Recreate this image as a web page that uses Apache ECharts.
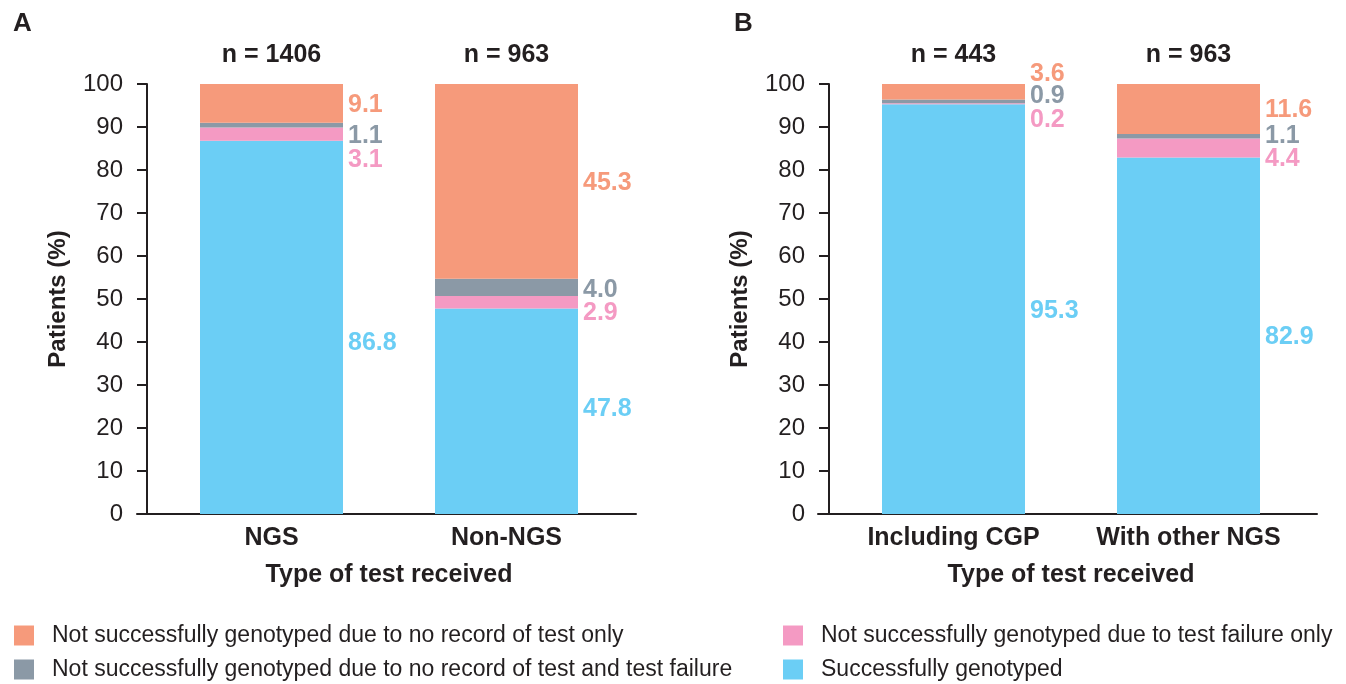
<!DOCTYPE html>
<html>
<head>
<meta charset="utf-8">
<script src="https://cdn.jsdelivr.net/npm/echarts@6.0.0/dist/echarts.min.js"></script>
<style>
  html, body { margin: 0; padding: 0; background: #fff; }
  #chart { width: 1346px; height: 684px; }
</style>
</head>
<body>
<div id="chart"></div>
<script>
// 数据
const seriesNames = [
  'Successfully genotyped',
  'Not successfully genotyped due to test failure only',
  'Not successfully genotyped due to no record of test and test failure',
  'Not successfully genotyped due to no record of test only'
];
const seriesColors = ['#6BCEF5', '#F49AC3', '#8B99A6', '#F69A7B'];

const categoriesA = ['NGS', 'Non-NGS'];
const nLabelsA = ['n = 1406', 'n = 963'];
const successA = [86.8, 47.8];
const failureA = [3.1, 2.9];
const bothA = [1.1, 4.0];
const noRecordA = [9.1, 45.3];

const categoriesB = ['Including CGP', 'With other NGS'];
const nLabelsB = ['n = 443', 'n = 963'];
const successB = [95.3, 82.9];
const failureB = [0.2, 4.4];
const bothB = [0.9, 1.1];
const noRecordB = [3.6, 11.6];

const yTicks = [0, 100, 10];

// 标签上下微调 (px)，避免重叠
const nudgeA = [[16, -2], [26, 11], [11, 3], [2, 2]];
const nudgeB = [[2, 1], [16, 11], [-5, 0], [-18, 1]];

const font = 'Liberation Sans, Arial, Helvetica, sans-serif';
const ink = '#231f20';

const chart = echarts.init(document.getElementById('chart'));

function panelGrid(left) {
  return { left: left, top: 84, width: 470, height: 430 };
}
function lineGrid(left) {
  return { left: left, top: 84, width: 499, height: 430 };
}

function catAxis(grid, cats) {
  return {
    type: 'category', gridIndex: grid, data: cats, position: 'bottom',
    axisLine: { show: false }, axisTick: { show: false },
    axisLabel: { interval: 0, color: ink, fontFamily: font, fontWeight: 'bold', fontSize: 25, margin: 12 },
    name: 'Type of test received', nameLocation: 'middle', nameGap: 49,
    nameTextStyle: { color: ink, fontFamily: font, fontWeight: 'bold', fontSize: 25 }
  };
}
function nAxis(grid, labels) {
  return {
    type: 'category', gridIndex: grid, data: labels, position: 'top',
    axisLine: { show: false }, axisTick: { show: false },
    axisLabel: { interval: 0, color: ink, fontFamily: font, fontWeight: 'bold', fontSize: 25, margin: 16 }
  };
}
function lineAxis(grid) {
  return {
    type: 'value', gridIndex: grid, min: 0, max: 1,
    axisLine: { show: true, lineStyle: { color: ink, width: 2 } },
    axisTick: { show: false }, axisLabel: { show: false }, splitLine: { show: false }
  };
}
function valAxis(grid) {
  return {
    type: 'value', gridIndex: grid, min: yTicks[0], max: yTicks[1], interval: yTicks[2], offset: 7,
    axisLine: { show: true, lineStyle: { color: ink, width: 2 } },
    axisTick: { show: true, length: 10, lineStyle: { color: ink, width: 2 } },
    axisLabel: { color: ink, fontFamily: font, fontSize: 24, margin: 24 },
    splitLine: { show: false },
    name: 'Patients (%)', nameLocation: 'middle', nameGap: 77,
    nameTextStyle: { color: ink, fontFamily: font, fontWeight: 'bold', fontSize: 24 }
  };
}
function hiddenAxis(grid) {
  return { type: 'value', gridIndex: grid, min: 0, max: 1, show: false };
}

function panelSeries(xIdx, yIdx, stackName, values, nudge) {
  return values.map(function (vals, i) {
    return {
      name: seriesNames[i], type: 'bar', stack: stackName,
      xAxisIndex: xIdx, yAxisIndex: yIdx, barWidth: 143,
      itemStyle: { color: seriesColors[i] },
      data: vals.map(function (v, j) {
        return {
          value: v,
          label: {
            show: true, position: 'right', distance: 5, offset: [0, nudge[i][j]],
            color: seriesColors[i], fontFamily: font, fontWeight: 'bold', fontSize: 25,
            formatter: v.toFixed(1)
          }
        };
      })
    };
  });
}

function legendBlock(names, left) {
  return {
    data: names, orient: 'vertical', left: left, top: 624, height: 90, padding: 0,
    itemWidth: 20, itemHeight: 20, itemGap: 11, selectedMode: false, icon: 'rect',
    textStyle: { color: ink, fontFamily: font, fontSize: 23, padding: [0, 0, 0, 13] }
  };
}

const option = {
  animation: false,
  title: [
    { text: 'A', left: 8, top: 6, textStyle: { color: ink, fontFamily: font, fontWeight: 'bold', fontSize: 26 } },
    { text: 'B', left: 729, top: 6, textStyle: { color: ink, fontFamily: font, fontWeight: 'bold', fontSize: 26 } }
  ],
  grid: [panelGrid(154), panelGrid(836), lineGrid(137), lineGrid(818)],
  xAxis: [
    catAxis(0, categoriesA), nAxis(0, nLabelsA),
    catAxis(1, categoriesB), nAxis(1, nLabelsB),
    lineAxis(2), lineAxis(3)
  ],
  yAxis: [valAxis(0), valAxis(1), hiddenAxis(2), hiddenAxis(3)],
  legend: [
    legendBlock([seriesNames[3], seriesNames[2]], 14),
    legendBlock([seriesNames[1], seriesNames[0]], 783)
  ],
  series: [].concat(
    panelSeries(0, 0, 'A', [successA, failureA, bothA, noRecordA], nudgeA),
    panelSeries(2, 1, 'B', [successB, failureB, bothB, noRecordB], nudgeB)
  )
};

chart.setOption(option);
</script>
</body>
</html>
